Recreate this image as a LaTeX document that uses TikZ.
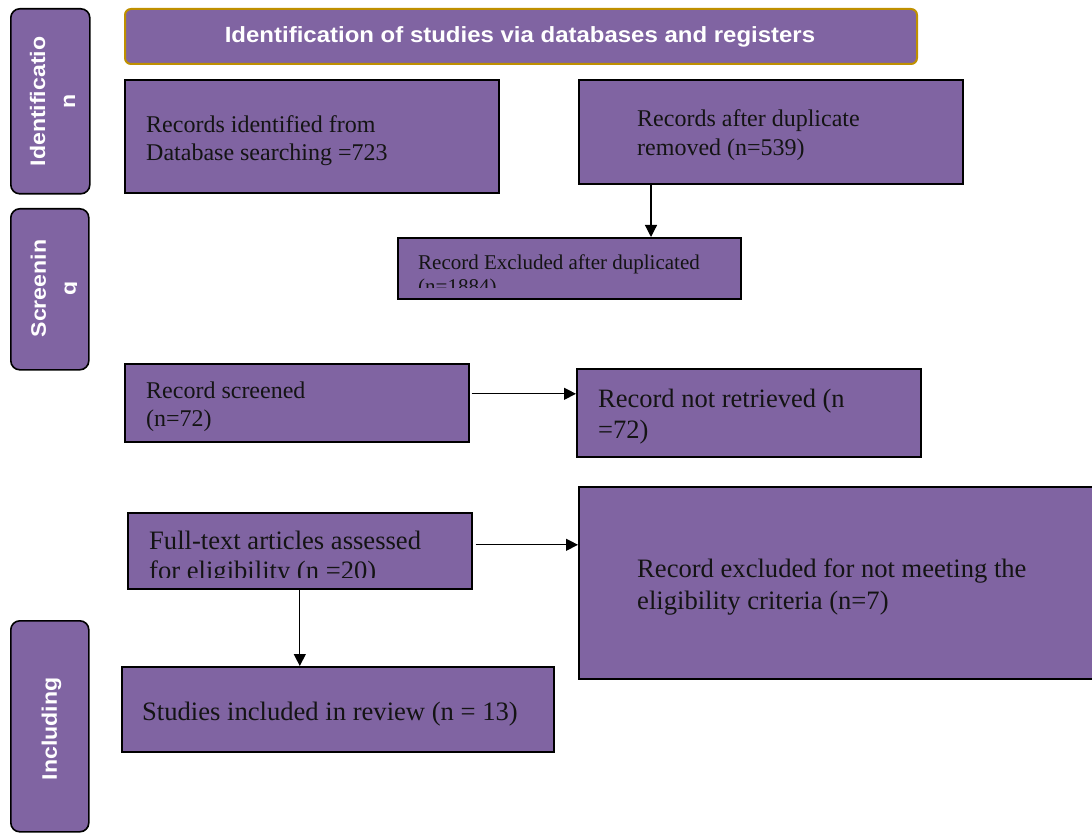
\documentclass[tikz,border=0pt]{standalone}
\usepackage{fontspec}
\setmainfont{Liberation Serif}
\setsansfont{Liberation Sans}
\usetikzlibrary{arrows.meta}
\definecolor{purp}{HTML}{8064A2}
\definecolor{gold}{HTML}{BF9000}
\definecolor{ink}{HTML}{141414}
\tikzset{
  x=1pt, y=-1pt,
  pbox/.style={draw=black, line width=1.6pt, fill=purp, inner sep=0pt, anchor=north west},
  sidebox/.style={pbox, rounded corners=9pt},
  headbox/.style={draw=gold, line width=2pt, fill=purp, rounded corners=6pt, inner sep=0pt, anchor=north west},
  txt/.style={anchor=west, align=left, inner sep=0pt, text=ink},
  sidetxt/.style={rotate=90, align=center, inner sep=0pt, text=white, font=\sffamily\bfseries\fontsize{21}{30}\selectfont},
  arr/.style={line width=1.2pt, -{Triangle[length=12pt,width=12pt]}},
}
\newcommand{\wide}[1]{\scalebox{1.1}[1]{#1}}
\begin{document}
\begin{tikzpicture}
\useasboundingbox (0,0) rectangle (1092,834);
% side boxes
\node[sidebox, minimum width=79pt, minimum height=185pt] (s1) at (10,8) {};
\node[sidebox, minimum width=78pt, minimum height=161pt] (s2) at (10,208) {};
\node[sidebox, minimum width=78pt, minimum height=211pt] (s3) at (10,620) {};
\node[sidetxt] (s1t) at (52.5,101.5) {\wide{Identificatio}\\\wide{n}};
\begin{scope}
\clip (10,208) rectangle (76,369);
\node[sidetxt] (s2t) at (55.5,288.5) {\wide{Screenin}\\\wide{g}};
\end{scope}
\node[sidetxt] (s3t) at (51.5,729) {\wide{Including}};
% header
\node[headbox, minimum width=792pt, minimum height=55pt] (h) at (124,8) {};
\node[inner sep=0pt, text=white, font=\sffamily\bfseries\fontsize{22}{24}\selectfont] (ht) at (520,37) {\scalebox{1.09}[1]{Identification of studies via databases and registers}};
% boxes
\node[pbox, minimum width=374pt, minimum height=113pt] (b1) at (124,79) {};
\node[pbox, minimum width=384pt, minimum height=104pt] (b2) at (578,79) {};
\node[pbox, minimum width=343pt, minimum height=61pt] (b3) at (397,237) {};
\node[pbox, minimum width=344pt, minimum height=78pt] (b4) at (124,363) {};
\node[pbox, minimum width=344pt, minimum height=88pt] (b5) at (576,368) {};
\node[pbox, minimum width=344pt, minimum height=76pt] (b6) at (127,512) {};
\node[pbox, minimum width=530pt, minimum height=192pt] (b7) at (578,486) {};
\node[pbox, minimum width=432pt, minimum height=85pt] (b8) at (121,666) {};
% texts
\node[txt, font=\fontsize{24}{28}\selectfont] (t1) at (146,141) {Records identified from\\Database searching =723};
\node[txt, font=\fontsize{24}{29}\selectfont] (t2) at (637,135) {Records after duplicate\\removed (n=539)};
\begin{scope}
\clip (399,239) rectangle (738,287.5);
\node[txt, font=\fontsize{21}{24}\selectfont] (t3) at (418,276) {Record Excluded after duplicated\\(n=1884)};
\end{scope}
\node[txt, font=\fontsize{24}{28}\selectfont] (t4) at (146,407) {Record screened\\(n=72)};
\node[txt, font=\fontsize{26.5}{31}\selectfont] (t5) at (598,417) {Record not retrieved (n\\=72)};
\begin{scope}
\clip (129,514) rectangle (469,577);
\node[txt, font=\fontsize{26.6}{30}\selectfont] (t6) at (149,558) {Full-text articles assessed\\for eligibility (n =20)};
\end{scope}
\node[txt, font=\fontsize{26.6}{32}\selectfont] (t7) at (637,587) {Record excluded for not meeting the\\eligibility criteria (n=7)};
\node[txt, font=\fontsize{26.6}{28}\selectfont] (t8) at (142,714) {Studies included in review (n = 13)};
% connectors
\coordinate (a1s) at ([xshift=73pt]b2.south west);
\draw[arr] (a1s) -- (a1s |- b3.north);
\coordinate (a2s) at ([shift={(2,-9)}]b4.east);
\draw[arr] (a2s) -- (a2s -| b5.west);
\coordinate (a3s) at ([shift={(3,-6)}]b6.east);
\draw[arr] (a3s) -- (a3s -| b7.west);
\draw[arr] (b6.south) -- (b6.south |- b8.north);
\end{tikzpicture}
\end{document}
